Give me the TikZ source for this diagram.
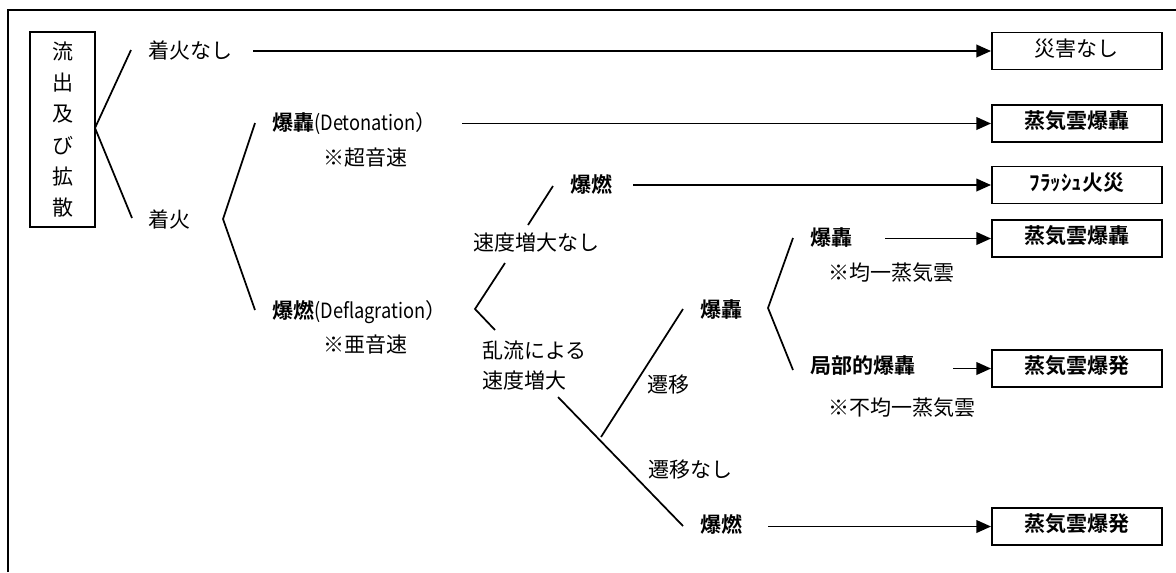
\documentclass[tikz,border=0pt]{standalone}
\usepackage{fontspec}
\setmainfont{Noto Sans CJK JP}[BoldFont={Noto Sans CJK JP Bold}]
\usetikzlibrary{arrows.meta}
\begin{document}
\begin{tikzpicture}[x=0.75pt,y=-0.75pt,
  font=\fontsize{15.75pt}{19pt}\selectfont,
  txt/.style={anchor=west,inner sep=0pt,text height=0.85em,text depth=0.1em},
  btxt/.style={txt,font=\fontsize{15.75pt}{19pt}\selectfont\bfseries},
  resbox/.style={draw,line width=1.3pt,anchor=west,inner sep=0pt,
    minimum width=127.5pt,minimum height=27.75pt,text height=0.85em,text depth=0.1em},
  ln/.style={line width=1.3pt},
  arr/.style={line width=1.3pt,-{Triangle[length=11pt,width=9.5pt]}},
  frame/.style={line width=1.8pt}]
\useasboundingbox (0,0) rectangle (1176,572);
% outer frame (only top and left edges visible)
\coordinate (fbl) at (8,572);
\coordinate (ftl) at (8,10);
\coordinate (ftr) at (1176,10);
\draw[frame] (fbl) -- (ftl) -- (ftr);

% source box
\node[draw,line width=1.3pt,inner sep=0pt,minimum width=48.75pt,minimum height=146.25pt,
  align=center,font=\fontsize{15.75pt}{23.5pt}\selectfont] (src) at (62.5,129.5)
  {流\\出\\及\\び\\拡\\散};

% text nodes
\node[txt] (noig) at (148,53) {着火なし};
\node[txt] (ig) at (148,222) {着火};
\node[txt] (det) at (272,125) {\textbf{爆轟}\scalebox{0.87}[1]{(Detonation}）};
\node[txt] (detn) at (323,160) {※超音速};
\node[txt] (def) at (272,313) {\textbf{爆燃}\scalebox{0.87}[1]{(Deflagration}）};
\node[txt] (defn) at (323,347) {※亜音速};
\node[txt] (nosp) at (473,245) {速度増大なし};
\node[anchor=west,inner sep=0pt,align=left,font=\fontsize{15.75pt}{22.5pt}\selectfont] (turb) at (482,366) {乱流による\\速度増大};
\node[btxt] (f1) at (570,187) {爆燃};
\node[txt] (tr) at (647,387) {遷移};
\node[txt] (ntr) at (648,472) {遷移なし};
\node[btxt] (d2) at (700,312) {爆轟};
\node[btxt] (f2) at (700,527) {爆燃};
\node[btxt] (d3) at (810,240) {爆轟};
\node[txt] (d3n) at (828,275) {※均一蒸気雲};
\node[btxt] (loc) at (810,368) {局部的爆轟};
\node[txt] (locn) at (828,410) {※不均一蒸気雲};

% result boxes
\node[resbox] (b1) at (991,51) {災害なし};
\node[resbox,font=\fontsize{15.75pt}{19pt}\selectfont\bfseries] (b2) at (991,123.5) {蒸気雲爆轟};
\node[resbox,font=\fontsize{15.75pt}{19pt}\selectfont\bfseries] (b3) at (991,185) {ﾌﾗｯｼｭ火災};
\node[resbox,font=\fontsize{15.75pt}{19pt}\selectfont\bfseries] (b4) at (991,238.5) {蒸気雲爆轟};
\node[resbox,font=\fontsize{15.75pt}{19pt}\selectfont\bfseries] (b5) at (991,368.5) {蒸気雲爆発};
\node[resbox,font=\fontsize{15.75pt}{19pt}\selectfont\bfseries] (b6) at (991,526.5) {蒸気雲爆発};

% bracket coordinates
\coordinate (a0) at (95,128);
\coordinate (a0u) at (131,50);
\coordinate (a0d) at (132,218);
\coordinate (a1) at (223,219);
\coordinate (a1u) at (255,123);
\coordinate (a1d) at (255,310);
\coordinate (a2) at (475,309);
\coordinate (a2u) at (505,263);
\coordinate (a2d) at (495,330);
\coordinate (l3a) at (528,225);
\coordinate (l3b) at (553,186);
\coordinate (l4a) at (558,397);
\coordinate (l4b) at (683,526);
\coordinate (l5a) at (601,437);
\coordinate (l5b) at (683,309);
\coordinate (a6) at (768,308);
\coordinate (a6u) at (793,238);
\coordinate (a6d) at (793,370);

\draw[ln] (a0u) -- (a0) -- (a0d);
\draw[ln] (a1u) -- (a1) -- (a1d);
\draw[ln] (a2u) -- (a2) -- (a2d);
\draw[ln] (l3a) -- (l3b);
\draw[ln] (l4a) -- (l4b);
\draw[ln] (l5a) -- (l5b);
\draw[ln] (a6u) -- (a6) -- (a6d);

% arrow start points
\coordinate (s1) at (253,51);
\coordinate (s2) at (462,123.5);
\coordinate (s3) at (633,185);
\coordinate (s4) at (885,238.5);
\coordinate (s5) at (953,368.5);
\coordinate (s6) at (768,526.5);
\draw[arr] (s1) -- (b1.west);
\draw[arr] (s2) -- (b2.west);
\draw[arr] (s3) -- (b3.west);
\draw[arr] (s4) -- (b4.west);
\draw[arr] (s5) -- (b5.west);
\draw[arr] (s6) -- (b6.west);
\end{tikzpicture}
\end{document}
